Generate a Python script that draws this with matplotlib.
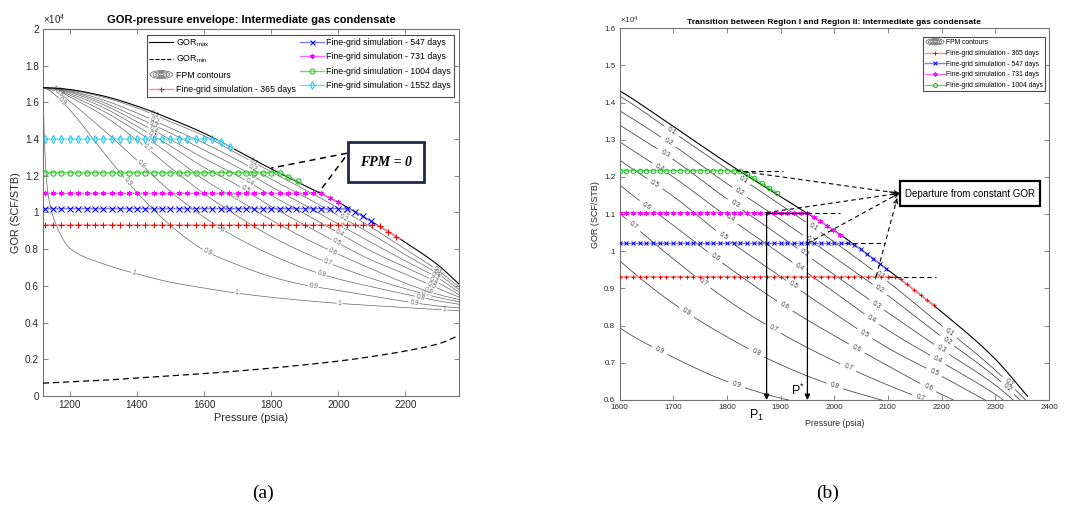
import numpy as np
import matplotlib
matplotlib.use("Agg")
import matplotlib.pyplot as plt
from matplotlib.patches import Ellipse, Rectangle
from matplotlib.legend_handler import HandlerBase
from matplotlib.lines import Line2D
from matplotlib.ticker import FuncFormatter, MultipleLocator

plt.rcParams["font.family"] = ["Liberation Sans", "DejaVu Sans"]
plt.rcParams["mathtext.fontset"] = "custom"
plt.rcParams["mathtext.rm"] = "Liberation Sans"
plt.rcParams["mathtext.it"] = "Liberation Sans:italic"
plt.rcParams["mathtext.bf"] = "Liberation Sans:bold"

# ---------------- data ----------------
P_NODES = [1120, 1125, 1135, 1160, 1200, 1300, 1400, 1500, 1600, 1700, 1800, 1900, 2000, 2100, 2200, 2300, 2360]
GOR_MAX = [16800, 16800, 16795, 16775, 16700, 16350, 15800, 15100, 14320, 13360, 12380, 11470, 10560, 9500, 8370, 7100, 6100]

GOR_MIN_P = [1120, 1200, 1300, 1400, 1500, 1600, 1700, 1800, 1900, 2000, 2100, 2200, 2300, 2360]
GOR_MIN = [700, 770, 860, 980, 1100, 1220, 1360, 1520, 1700, 1900, 2150, 2450, 2850, 3300]

FPM_LEVELS = [0.1, 0.2, 0.3, 0.4, 0.5, 0.6, 0.7, 0.8, 0.9, 1.0]
FPM_01 = [16800, 16798, 16790, 16765, 16680, 16280, 15700, 14950, 14180, 13200, 12220, 11250, 10250, 9180, 8000, 6800, 5950]
FPM_02 = [16800, 16796, 16785, 16755, 16640, 16130, 15420, 14600, 13780, 12850, 11820, 10850, 9840, 8810, 7700, 6620, 5800]
FPM_03 = [16800, 16794, 16780, 16745, 16600, 16000, 15180, 14330, 13400, 12470, 11410, 10400, 9370, 8350, 7360, 6400, 5660]
FPM_04 = [16800, 16792, 16775, 16735, 16550, 15880, 14950, 13980, 12950, 12000, 10940, 9930, 8900, 7880, 7020, 6150, 5520]
FPM_05 = [16800, 16790, 16770, 16720, 16480, 15720, 14700, 13620, 12460, 11480, 10330, 9320, 8330, 7400, 6640, 5850, 5390]
FPM_06 = [16800, 16788, 16765, 16700, 16400, 15520, 14420, 13150, 11790, 10700, 9600, 8600, 7730, 6920, 6150, 5520, 5260]
FPM_07 = [16800, 16785, 16755, 16670, 16300, 15280, 13950, 12450, 11030, 9800, 8700, 7800, 7050, 6400, 5850, 5360, 5130]
FPM_08 = [16800, 16780, 16740, 16600, 16050, 14500, 12850, 11150, 9750, 8600, 7700, 6950, 6380, 5950, 5550, 5180, 5000]
FPM_09 = [16800, 16770, 16700, 16350, 15600, 13300, 11100, 9300, 7950, 7150, 6500, 6050, 5750, 5450, 5150, 4900, 4800]
FPM_10 = [16800, 13500, 11000, 9300, 8050, 7200, 6650, 6200, 5880, 5600, 5380, 5200, 5050, 4930, 4820, 4710, 4650]

PLATEAU_P = [1125, 1137.5, 1150, 1162.5, 1175, 1187.5, 1200, 1212.5, 1225, 1237.5, 1250, 1262.5,
             1275, 1287.5, 1300, 1312.5, 1325, 1337.5, 1350, 1362.5, 1375, 1387.5, 1400, 1412.5,
             1425, 1437.5, 1450, 1462.5, 1475, 1487.5, 1500, 1512.5, 1525, 1537.5, 1550, 1562.5,
             1575, 1587.5, 1600, 1612.5, 1625, 1637.5, 1650, 1662.5, 1675, 1687.5, 1700, 1712.5,
             1725, 1737.5, 1750, 1762.5, 1775, 1787.5, 1800, 1812.5, 1825, 1837.5, 1850, 1862.5,
             1875, 1887.5, 1900, 1912.5, 1925, 1937.5, 1950, 1962.5, 1975, 1987.5, 2000, 2012.5,
             2025, 2037.5, 2050, 2062.5, 2075, 2087.5, 2100, 2112.5]

PLATEAU_365, DEP_365 = 9320, 2112.5
TAIL_365_P = [2124, 2136, 2149, 2161, 2173, 2185]
TAIL_365_G = [9250, 9110, 8960, 8830, 8690, 8560]

PLATEAU_547, DEP_547 = 10210, 2025
TAIL_547_P = [2037, 2049, 2061, 2073, 2085, 2097]
TAIL_547_G = [10180, 10050, 9920, 9790, 9660, 9530]

PLATEAU_731, DEP_731 = 11040, 1950
TAIL_731_P = [1962, 1974, 1986, 1998, 2010]
TAIL_731_G = [10930, 10810, 10690, 10570, 10440]

PLATEAU_1004, DEP_1004 = 12170, 1825
TAIL_1004_P = [1837, 1851, 1865, 1879, 1893]
TAIL_1004_G = [12090, 11960, 11830, 11700, 11580]

PLATEAU_1552, DEP_1552 = 14000, 1625
TAIL_1552_P = [1640, 1652, 1664, 1676, 1688]
TAIL_1552_G = [13930, 13820, 13700, 13590, 13480]

P1_VALUE = 1874
PSTAR_VALUE = 1950

# ---------------- helpers ----------------
def pchip(xk, yk, x):
    xk = np.asarray(xk, float); yk = np.asarray(yk, float); x = np.asarray(x, float)
    h = np.diff(xk); d = np.diff(yk) / h
    m = np.zeros_like(yk)
    for k in range(1, len(xk) - 1):
        if d[k - 1] * d[k] > 0:
            w1 = 2 * h[k] + h[k - 1]; w2 = h[k] + 2 * h[k - 1]
            m[k] = (w1 + w2) / (w1 / d[k - 1] + w2 / d[k])
    m[0] = d[0]; m[-1] = d[-1]
    idx = np.clip(np.searchsorted(xk, x) - 1, 0, len(xk) - 2)
    t = (x - xk[idx]) / h[idx]
    h00 = 2 * t**3 - 3 * t**2 + 1; h10 = t**3 - 2 * t**2 + t
    h01 = -2 * t**3 + 3 * t**2; h11 = t**3 - t**2
    return h00 * yk[idx] + h10 * h[idx] * m[idx] + h01 * yk[idx + 1] + h11 * h[idx] * m[idx + 1]

LEVEL_ARRAYS = [FPM_01, FPM_02, FPM_03, FPM_04, FPM_05, FPM_06, FPM_07, FPM_08, FPM_09, FPM_10]
LEVEL_OF = dict(zip(FPM_LEVELS, LEVEL_ARRAYS))

p_f = np.unique(np.concatenate([np.linspace(1120, 1200, 260), np.linspace(1200, 2360, 1000)]))
g_f = np.linspace(0, 17600, 1400)
gmax_f = pchip(P_NODES, GOR_MAX, p_f)
lev_f = np.array([pchip(P_NODES, a, p_f) for a in LEVEL_ARRAYS[::-1]])
fp = np.concatenate([[2.0], FPM_LEVELS[::-1], [0.0]])
Z = np.empty((g_f.size, p_f.size))
for j in range(p_f.size):
    xp = np.concatenate([[0.0], lev_f[:, j], [gmax_f[j]]])
    xp = np.maximum.accumulate(xp)
    Z[:, j] = np.interp(g_f, xp, fp)
Z = np.ma.masked_where(g_f[:, None] > gmax_f[None, :] + 1e-6, Z)

gmin_p = np.linspace(1120, 2360, 400)
gmin_f = pchip(GOR_MIN_P, GOR_MIN, gmin_p)


def series(plateau, dep, tp, tg):
    pp = [x for x in PLATEAU_P if x <= dep]
    return np.array(pp + list(tp)), np.array([plateau] * len(pp) + list(tg))

SERIES = [
    (series(PLATEAU_365, DEP_365, TAIL_365_P, TAIL_365_G), "#ff8a8a", "#ff0000", "+", "#ff0000", "Fine-grid simulation - 365 days"),
    (series(PLATEAU_547, DEP_547, TAIL_547_P, TAIL_547_G), "#7f7fff", "#0000e6", "x", "#0000e6", "Fine-grid simulation - 547 days"),
    (series(PLATEAU_731, DEP_731, TAIL_731_P, TAIL_731_G), "#ff66ff", "#ff00ff", (6, 2, 0), "#ff00ff", "Fine-grid simulation - 731 days"),
    (series(PLATEAU_1004, DEP_1004, TAIL_1004_P, TAIL_1004_G), "#66dd66", "#1fc01f", "o", "none", "Fine-grid simulation - 1004 days"),
    (series(PLATEAU_1552, DEP_1552, TAIL_1552_P, TAIL_1552_G), "#66dcf5", "#18c6ee", "d", "none", "Fine-grid simulation - 1552 days"),
]


class HandlerContour(HandlerBase):
    def create_artists(self, legend, orig_handle, xdescent, ydescent, width, height, fontsize, trans):
        cx = 0.5 * width - xdescent
        cy = 0.5 * height - ydescent
        arts = []
        for k in (1.0, 0.74, 0.5, 0.27):
            arts.append(Ellipse((cx, cy), width * 0.95 * k, height * 1.3 * k, fill=False,
                                ec="0.35", lw=0.5, transform=trans))
        return arts


def style_axes(ax, fs):
    for s in ax.spines.values():
        s.set_color("0.45"); s.set_linewidth(0.8)
    ax.tick_params(direction="in", top=True, right=True, length=3.5, width=0.6,
                   labelsize=fs, colors="0.45", labelcolor="0.15", pad=3)
    ax.yaxis.set_major_formatter(FuncFormatter(lambda v, pos: f"{v/1e4:g}"))


def label_positions(spec):
    out = []
    for lev, plist in spec:
        for p in plist:
            out.append((p, float(pchip(P_NODES, LEVEL_OF[lev], np.array([p]))[0])))
    return out


fig = plt.figure(figsize=(10.65, 5.11), dpi=100)
axA = fig.add_axes([43 / 1065, 1 - 396 / 511, 416 / 1065, 367 / 511])
axB = fig.add_axes([619.5 / 1065, 1 - 400 / 511, 429.5 / 1065, 371.8 / 511])

# ---------------- panel (a) ----------------
csA = axA.contour(p_f, g_f, Z, levels=FPM_LEVELS, colors="0.4", linewidths=0.5, zorder=1)
labA = [
    (0.1, [1452, 1747, 2024, 2296]), (0.2, [1452, 1745, 2014, 2296]), (0.3, [1450, 1740, 2014, 2290]),
    (0.4, [1448, 1735, 2004, 2285]), (0.5, [1445, 1722, 1994, 2278]), (0.6, [1440, 1690, 1984, 2270]),
    (0.7, [1162, 1430, 1670, 1969, 2260]), (0.8, [1168, 1412, 1650, 1950, 2245]),
    (0.9, [1176, 1372, 1610, 1925, 2226]), (1.0, [1390, 1698, 2004, 2317]),
]
axA.clabel(csA, manual=label_positions(labA), inline=True, fontsize=4.8, fmt="%g", inline_spacing=1)
axA.plot(p_f, gmax_f, color="k", lw=0.8, zorder=3)
axA.plot(gmin_p, gmin_f, color="k", lw=0.9, ls=(0, (5, 3)), zorder=3)
for (pp, gg), lc, mc, mk, mfc, lab in SERIES:
    axA.plot(pp, gg, color=lc, lw=1.0, marker=mk, ms=3.8, mec=mc, mfc=mfc, mew=0.75,
             markevery=2, zorder=4)

axA.set_xlim(1120, 2360)
axA.set_ylim(0, 20000)
axA.xaxis.set_major_locator(MultipleLocator(200))
axA.yaxis.set_major_locator(MultipleLocator(2000))
style_axes(axA, 7.2)
axA.set_xlabel("Pressure (psia)", fontsize=7.8, labelpad=2, color="0.15")
axA.set_ylabel("GOR (SCF/STB)", fontsize=7.8, labelpad=3, color="0.15")
axA.set_title("GOR-pressure envelope: Intermediate gas condensate", fontsize=8, fontweight="bold", pad=4)
axA.text(0.0, 1.008, r"$\times10^{4}$", transform=axA.transAxes, fontsize=7, ha="left", va="bottom", color="0.15")

# FPM = 0 box with dashed leaders
axA.add_patch(Rectangle((2028, 11660), 228, 2180, fc="white", ec="#1c2a4a", lw=2.0, zorder=6))
axA.text(2142, 12750, "FPM = 0", family="Liberation Serif", fontweight="bold", style="italic",
         fontsize=10, ha="center", va="center", zorder=7)
axA.plot([2026, 1800], [13230, 12420], color="k", lw=1.1, ls=(0, (4, 3)), zorder=5)
axA.plot([2020, 1942], [13000, 11090], color="k", lw=1.1, ls=(0, (4, 3)), zorder=5)

hA = [Line2D([], [], color="k", lw=0.8), Line2D([], [], color="k", lw=0.8, ls="--"),
      Line2D([], [], color="0.4")]
hA_cont = hA[2]
for (pp, gg), lc, mc, mk, mfc, lab in SERIES:
    hA.append(Line2D([], [], color=lc, lw=1.0, marker=mk, ms=3.6, mec=mc, mfc=mfc, mew=0.7))
labelsA = [r"GOR$_{\mathrm{max}}$", r"GOR$_{\mathrm{min}}$", "FPM contours"] + [s[-1] for s in SERIES]
legA = axA.legend(hA, labelsA, ncol=2, loc="upper right", bbox_to_anchor=(0.987, 0.985),
                  borderaxespad=0, fontsize=6.3, handlelength=2.7, handletextpad=0.3,
                  columnspacing=0.5, labelspacing=0.6, borderpad=0.3, frameon=True, fancybox=False,
                  framealpha=1, edgecolor="0.3", handler_map={hA_cont: HandlerContour()})
legA.get_frame().set_linewidth(0.8)
legA.set_zorder(8)

# ---------------- panel (b) ----------------
csB = axB.contour(p_f, g_f, Z, levels=FPM_LEVELS, colors="0.25", linewidths=0.55, zorder=1)
labB = [
    (0.1, [1697, 1830, 1961, 2085, 2215, 2325]), (0.2, [1691, 1824, 1955, 2085, 2210, 2323]),
    (0.3, [1685, 1815, 1945, 2079, 2200]), (0.4, [1675, 1806, 1936, 2070, 2193]),
    (0.5, [1666, 1793, 1924, 2057, 2186]), (0.6, [1651, 1778, 1908, 2042, 2175]),
    (0.7, [1626, 1756, 1886, 2026, 2160]), (0.8, [1725, 1855, 2001]), (0.9, [1675, 1818]),
]
axB.clabel(csB, manual=label_positions(labB), inline=True, fontsize=4.8, fmt="%g", inline_spacing=1)
axB.plot(p_f, gmax_f, color="k", lw=0.8, zorder=3)
for (pp, gg), lc, mc, mk, mfc, lab in SERIES[:4]:
    axB.plot(pp, gg, color=lc, lw=1.0, marker=mk, ms=3.3, mec=mc, mfc=mfc, mew=0.7, zorder=4)

# dashed extensions of constant GOR
dash = (0, (4, 3))
axB.plot([1830, 1905], [PLATEAU_1004] * 2, color="k", lw=0.8, ls=dash, zorder=5)
axB.plot([1950, 2010], [PLATEAU_731] * 2, color="k", lw=0.8, ls=dash, zorder=5)
axB.plot([2020, 2095], [PLATEAU_547] * 2, color="k", lw=0.8, ls=dash, zorder=5)
axB.plot([2100, 2190], [PLATEAU_365] * 2, color="k", lw=0.8, ls=dash, zorder=5)

# arrows to the departure box
box_pt = (2121, 11560)
for (x0, y0), tip in [((1818, PLATEAU_1004), box_pt), ((P1_VALUE, PLATEAU_731), box_pt),
                      ((PSTAR_VALUE, PLATEAU_547), box_pt), ((2078, PLATEAU_365), (2117, 11420))]:
    axB.plot([x0, tip[0]], [y0, tip[1]], color="k", lw=0.8, ls=dash, zorder=5)
    axB.annotate("", xy=tip, xytext=(tip[0] - 0.06 * (tip[0] - x0), tip[1] - 0.06 * (tip[1] - y0)),
                 arrowprops=dict(arrowstyle="->", lw=0.8, color="k", shrinkA=0, shrinkB=0,
                                 mutation_scale=7), zorder=5)
axB.add_patch(Rectangle((2122, 11208), 261, 671, fc="white", ec="k", lw=1.6, zorder=6))
axB.text(2252.5, 11543, "Departure from constant GOR", fontsize=7, ha="center", va="center", zorder=7)

# P1 and P* arrows
axB.plot([P1_VALUE, PSTAR_VALUE], [PLATEAU_731, PLATEAU_731], color="k", lw=0.9, zorder=5)
for xv in (P1_VALUE, PSTAR_VALUE):
    axB.annotate("", xy=(xv, 6000), xytext=(xv, PLATEAU_731),
                 arrowprops=dict(arrowstyle="-|>", lw=0.9, color="k", shrinkA=0, shrinkB=0,
                                 mutation_scale=8), zorder=5)
axB.text(PSTAR_VALUE - 18, 6060, r"P$^{*}$", fontsize=9, ha="center", va="bottom", zorder=7)
axB.text(P1_VALUE - 4, 5800, r"P$_{1}$", fontsize=9, ha="right", va="top", clip_on=False, zorder=7)

axB.set_xlim(1600, 2400)
axB.set_ylim(6000, 16000)
axB.xaxis.set_major_locator(MultipleLocator(100))
axB.yaxis.set_major_locator(MultipleLocator(1000))
style_axes(axB, 5.8)
axB.set_xlabel("Pressure (psia)", fontsize=6.2, labelpad=6, color="0.15")
axB.set_ylabel("GOR (SCF/STB)", fontsize=6.5, labelpad=3, color="0.15")
axB.set_title("Transition between Region I and Region II: Intermediate gas condensate",
              fontsize=6.1, fontweight="bold", pad=3)
axB.text(0.0, 1.006, r"$\times10^{4}$", transform=axB.transAxes, fontsize=5.8, ha="left", va="bottom", color="0.15")

hB = [Line2D([], [], color="0.4")]
hB_cont = hB[0]
for (pp, gg), lc, mc, mk, mfc, lab in SERIES[:4]:
    hB.append(Line2D([], [], color=lc, lw=1.0, marker=mk, ms=3.0, mec=mc, mfc=mfc, mew=0.7))
labelsB = ["FPM contours"] + [s[-1] for s in SERIES[:4]]
legB = axB.legend(hB, labelsB, loc="upper right", bbox_to_anchor=(0.991, 0.976), borderaxespad=0,
                  fontsize=4.9, handlelength=2.8, handletextpad=0.25, labelspacing=0.55,
                  borderpad=0.3, frameon=True, fancybox=False, framealpha=1, edgecolor="0.3",
                  handler_map={hB_cont: HandlerContour()})
legB.get_frame().set_linewidth(0.8)
legB.set_zorder(8)

fig.text(263 / 1065, 1 - 493 / 511, "(a)", family="Liberation Serif", fontsize=14, ha="center", va="center")
fig.text(828 / 1065, 1 - 493 / 511, "(b)", family="Liberation Serif", fontsize=14, ha="center", va="center")

fig.savefig("out.png", dpi=100)
